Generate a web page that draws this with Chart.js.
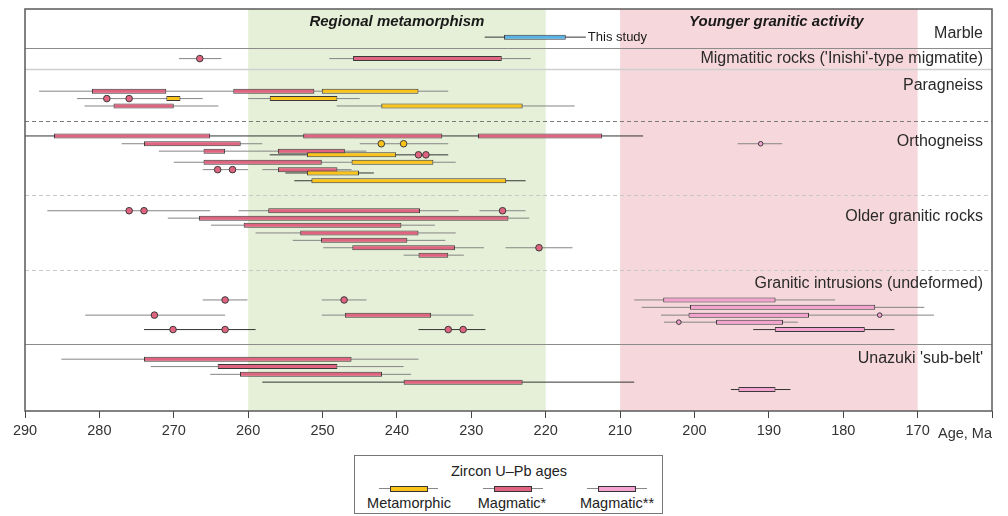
<!DOCTYPE html>
<html>
<head>
<meta charset="utf-8">
<script src="https://cdn.jsdelivr.net/npm/chart.js@4.4.1/dist/chart.umd.min.js"></script>
<style>
body{margin:0;background:#fff;font-family:"Liberation Sans",Arial,sans-serif;}
#wrap{position:relative;width:1008px;height:516px;}
#leyenda{position:absolute;left:354px;top:455px;width:307px;height:57px;border:1px solid #777;background:#fff;color:#222;font-size:14.5px;}
#leyenda .txt{position:absolute;transform:translate(-50%,-50%);white-space:nowrap;}
#leyenda .bigote{position:absolute;top:32px;height:1px;background:#888;}
#leyenda .caja{position:absolute;top:30px;height:4px;border:1px solid #333;}
</style>
</head>
<body>
<div id="wrap">
  <canvas id="grafico" width="1008" height="516"></canvas>
  <div id="leyenda">
    <div class="txt" style="left:154px;top:15px">Zircon U–Pb ages</div>
    <div class="bigote" style="left:24px;width:59px"></div>
    <div class="caja" style="left:35px;width:36px;background:#fcc419"></div>
    <div class="txt" style="left:54px;top:47px">Metamorphic</div>
    <div class="bigote" style="left:128px;width:60px"></div>
    <div class="caja" style="left:139px;width:36px;background:#e0637f"></div>
    <div class="txt" style="left:157px;top:47px">Magmatic*</div>
    <div class="bigote" style="left:232px;width:60px"></div>
    <div class="caja" style="left:243px;width:36px;background:#f4a3d0"></div>
    <div class="txt" style="left:262px;top:47px">Magmatic**</div>
  </div>
</div>
<script>
// edades en Ma, filas contadas de arriba hacia abajo
const etiquetasEje = [290, 280, 270, 260, 250, 240, 230, 220, 210, 200, 190, 180, 170];

const periodos = ['Regional metamorphism', 'Younger granitic activity'];
const periodoDesde = [260, 210];
const periodoHasta = [220, 170];

const grupos = ['Marble', "Migmatitic rocks ('Inishi'-type migmatite)", 'Paragneiss', 'Orthogneiss',
  'Older granitic rocks', 'Granitic intrusions (undeformed)', "Unazuki 'sub-belt'"];
const grupoFila = [3.28, 6.71, 10.36, 17.93, 28.06, 37.05, 47.18];
const separadores = [5.27, 8.1, 15.13, 25.12, 35.26, 45.29];

// cajas: [fila, desde, hasta]
const cajasEsteEstudio = [[3.8, 225.6, 217.3]];
const cajasMetamorficas = [
  [11.1, 250.1, 237.1], [12.1, 271, 269.1], [12.1, 257.1, 248], [13.1, 242.1, 223.1],
  [19.7, 252.1, 240.1], [20.7, 246.1, 235.1], [22.15, 252.1, 245.1], [23.2, 251.5, 225.3]
];
const cajasMagmaticas = [
  [6.7, 245.9, 225.9],
  [11.1, 281, 271], [11.1, 262, 251.1], [13.1, 278.1, 270],
  [17.15, 286.1, 265.1], [17.15, 252.6, 233.9], [17.15, 229.1, 212.4],
  [18.2, 274, 261], [19.2, 266, 263.1], [19.2, 256, 247], [20.7, 266, 250.1], [21.7, 256, 248],
  [27.25, 257.3, 236.9], [28.25, 266.6, 225], [29.2, 260.6, 239.4], [30.25, 253, 237.1],
  [31.25, 250.2, 238.6], [32.25, 246, 232.2], [33.25, 237.1, 233.1],
  [41.35, 247, 235.4],
  [47.3, 274, 246.1], [48.3, 264.1, 248], [49.35, 261.1, 242], [50.4, 239.1, 223.1]
];
const cajasMagmaticas2 = [
  [39.3, 204.2, 189.1], [40.3, 200.6, 175.7], [41.35, 200.8, 184.6],
  [42.3, 197.1, 188.1], [43.3, 189.2, 177.1], [51.4, 194.1, 189.1]
];

// puntos: [fila, edad]
const puntosMetamorficos = [[18.2, 242.1], [18.2, 239.1]];
const puntosMagmaticos = [
  [6.7, 266.5], [12.1, 279], [12.1, 276], [19.7, 237.1], [19.7, 236.1], [21.7, 264.1], [21.7, 262.1],
  [27.25, 276], [27.25, 274], [27.25, 225.8], [32.25, 220.9],
  [39.3, 263.1], [39.3, 247.1], [41.35, 272.6],
  [43.3, 270.1], [43.3, 263.1], [43.3, 233.1], [43.3, 231.1]
];
const puntosMagmaticos2 = [[18.2, 191.1], [41.35, 175.1], [42.3, 202.1]];

// bigotes (errores): [fila, desde, hasta]
const bigotes = [
  [6.7, 269.3, 263.6], [6.7, 249.1, 222],
  [11.1, 288.1, 233.1],
  [12.1, 283, 266.1], [12.1, 260, 245],
  [13.1, 282, 264], [13.1, 248.1, 216.1],
  [18.2, 277, 258.1], [18.2, 245, 233.1], [18.2, 194.2, 188.2],
  [19.2, 272, 244.1], [20.7, 270, 232.1],
  [21.7, 266.1, 260], [21.7, 258.1, 246.1],
  [27.25, 287, 265.1], [27.25, 261.3, 231.7], [27.25, 228.9, 222.7],
  [28.25, 270.8, 222.2], [29.2, 265, 234.9], [30.25, 259, 232.1], [31.25, 254, 233.5],
  [32.25, 249.9, 228.3], [32.25, 225.4, 216.4], [33.25, 239.1, 231],
  [39.3, 266.1, 260.1], [39.3, 250.1, 244.1], [39.3, 208.1, 181.1],
  [40.3, 207.1, 169.1],
  [41.35, 281.9, 263.1], [41.35, 250.1, 229.7], [41.35, 204.5, 167.8],
  [42.3, 204.1, 186.1],
  [47.3, 285.1, 237.1], [48.3, 273.1, 239.1], [49.35, 265.1, 238.1]
];
const bigotesOscuros = [
  [3.8, 228.2, 214.6], [17.15, 292, 206.9], [19.7, 257.1, 233.1], [22.15, 255, 243.1],
  [23.2, 253.8, 222.7], [43.3, 274, 259], [43.3, 237.1, 228.1], [43.3, 192.1, 173.1],
  [50.4, 258.1, 208.1], [51.4, 195.1, 187.1]
];

function aBarras(lista) {
  return lista.map(c => ({x: [c[1], c[2]], y: c[0]}));
}
function aPuntos(lista) {
  return lista.map(p => ({x: p[1], y: p[0]}));
}
function aSegmentos(lista) {
  let datos = [];
  lista.forEach(b => {
    datos.push({x: b[1], y: b[0]}, {x: b[2], y: b[0]}, {x: null, y: null});
  });
  return datos;
}

function barra(datos, color) {
  return {
    type: 'bar', indexAxis: 'y', data: aBarras(datos),
    backgroundColor: color, borderColor: '#3a3a3a', borderWidth: 1, borderSkipped: false,
    grouped: false, categoryPercentage: 1, barPercentage: 3, maxBarThickness: 5, order: 2
  };
}
function linea(datos, color) {
  return {
    type: 'line', data: aSegmentos(datos), borderColor: color, borderWidth: 1,
    pointRadius: 0, spanGaps: false, fill: false, order: 3
  };
}
function puntos(datos, color, radio) {
  return {
    type: 'scatter', data: aPuntos(datos), pointRadius: radio, pointBackgroundColor: color,
    pointBorderColor: '#3a3a3a', pointBorderWidth: 1, order: 1
  };
}

const fondo = {
  id: 'fondo',
  beforeDatasetsDraw(chart) {
    const {ctx, chartArea: a, scales: {x, y}} = chart;
    const coloresBanda = ['#e6f0d8', '#f6d7db'];
    const centroTitulo = [240, 189];
    ctx.save();
    periodos.forEach((p, i) => {
      const x1 = x.getPixelForValue(periodoDesde[i]);
      const x2 = x.getPixelForValue(periodoHasta[i]);
      ctx.fillStyle = coloresBanda[i];
      ctx.fillRect(x1, a.top, x2 - x1, a.bottom - a.top);
    });
    // lineas entre grupos
    const estilos = [
      {c: '#8c8c8c', d: [], w: 1}, {c: '#cfcfcf', d: [], w: 1.5}, {c: '#7a7a7a', d: [4, 3], w: 1},
      {c: '#c8c8c8', d: [4, 3], w: 1.2}, {c: '#c8c8c8', d: [4, 3], w: 1.2}, {c: '#8c8c8c', d: [], w: 1.2}
    ];
    separadores.forEach((s, i) => {
      const py = Math.round(y.getPixelForValue(s)) + 0.5;
      ctx.strokeStyle = estilos[i].c;
      ctx.lineWidth = estilos[i].w;
      ctx.setLineDash(estilos[i].d);
      ctx.beginPath();
      ctx.moveTo(a.left, py);
      ctx.lineTo(a.right, py);
      ctx.stroke();
    });
    ctx.setLineDash([]);
    ctx.fillStyle = '#1a1a1a';
    ctx.font = 'italic bold 15px "Liberation Sans", Arial, sans-serif';
    ctx.textAlign = 'center';
    ctx.textBaseline = 'middle';
    periodos.forEach((p, i) => {
      ctx.fillText(p, x.getPixelForValue(centroTitulo[i]), a.top + 13);
    });
    ctx.font = '16px "Liberation Sans", Arial, sans-serif';
    ctx.fillStyle = '#2a2a2a';
    ctx.textAlign = 'right';
    grupos.forEach((g, i) => {
      ctx.fillText(g, a.right - 9, y.getPixelForValue(grupoFila[i]));
    });
    ctx.restore();
  },
  afterDatasetsDraw(chart) {
    const {ctx, chartArea: a, scales: {x, y}} = chart;
    ctx.save();
    ctx.fillStyle = '#1a1a1a';
    ctx.font = '13px "Liberation Sans", Arial, sans-serif';
    ctx.textAlign = 'left';
    ctx.textBaseline = 'middle';
    ctx.fillText('This study', x.getPixelForValue(214.6) + 2, y.getPixelForValue(3.8));
    ctx.font = '14.5px "Liberation Sans", Arial, sans-serif';
    ctx.fillStyle = '#333';
    ctx.textAlign = 'right';
    ctx.fillText('Age, Ma', a.right, a.bottom + 23);
    ctx.strokeStyle = '#5a5a5a';
    ctx.lineWidth = 1.5;
    ctx.strokeRect(a.left, a.top, a.right - a.left, a.bottom - a.top);
    ctx.restore();
  }
};

new Chart(document.getElementById('grafico'), {
  type: 'scatter',
  data: {
    datasets: [
      linea(bigotes, '#858585'),
      linea(bigotesOscuros, '#333333'),
      barra(cajasEsteEstudio, '#59b2e6'),
      barra(cajasMetamorficas, '#fcc419'),
      barra(cajasMagmaticas, '#e0637f'),
      barra(cajasMagmaticas2, '#f4a3d0'),
      puntos(puntosMetamorficos, '#fcc419', 3.3),
      puntos(puntosMagmaticos, '#e0637f', 3.3),
      puntos(puntosMagmaticos2, '#f4a3d0', 2.3)
    ]
  },
  options: {
    responsive: false,
    animation: false,
    layout: {padding: {left: 25, right: 16, top: 9, bottom: 77}},
    plugins: {legend: {display: false}, tooltip: {enabled: false}},
    scales: {
      x: {
        type: 'linear', min: 160, max: 290, reverse: true, offset: false,
        afterFit: s => { s.height = 28; },
        border: {display: false},
        grid: {drawOnChartArea: false, drawTicks: true, tickLength: 7, color: '#444', offset: false},
        ticks: {
          stepSize: 10, padding: 4, color: '#333', maxRotation: 0, autoSkip: false,
          font: {family: '"Liberation Sans", Arial, sans-serif', size: 14.5},
          callback: v => etiquetasEje.includes(v) ? String(v) : ''
        }
      },
      y: {
        type: 'linear', min: 0, max: 54.3, reverse: true, offset: false, display: false
      }
    }
  },
  plugins: [fondo]
});
</script>
</body>
</html>
